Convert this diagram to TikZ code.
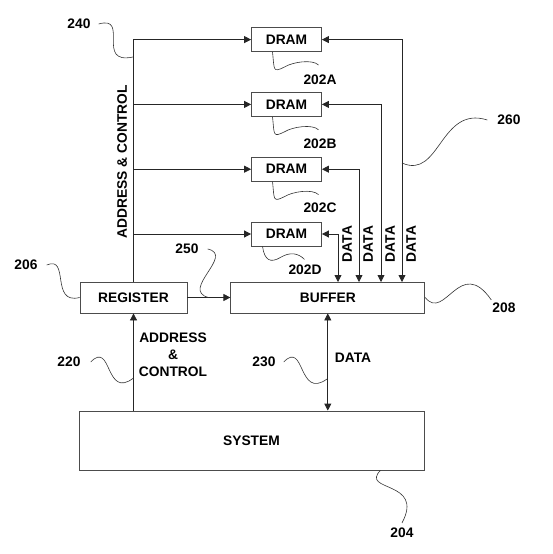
\documentclass[tikz,border=0pt]{standalone}
\usepackage{fontspec}
\setmainfont{Liberation Sans}
\usetikzlibrary{arrows.meta, positioning}

\begin{document}
\begin{tikzpicture}[
  x=1pt, y=-1pt,
  font=\fontsize{13.8}{17}\selectfont\bfseries,
  blockbox/.style={rectangle, draw=black!70, line width=0.8pt, inner sep=0pt, minimum height=31pt},
  drambox/.style={blockbox, minimum width=70pt, minimum height=24pt},
  wire/.style={draw=black!85, line width=0.8pt},
  arrowto/.style={-{Triangle[length=7pt,width=7pt]}},
  arrowboth/.style={{Triangle[length=7pt,width=7pt]}-{Triangle[length=7pt,width=7pt]}},
  lead/.style={draw=black!80, line width=0.6pt},
  reflabel/.style={inner sep=1pt}
]
  \useasboundingbox (0,0) rectangle (553,554);

  \node[blockbox, minimum width=107pt] (reg) at (133.5,297.5) {REGISTER};
  \node[blockbox, minimum width=194pt, right=43pt of reg] (buf) {BUFFER};
  \node[blockbox, minimum width=345pt, minimum height=59pt] (sys) at (251.5,440.5) {SYSTEM};

  \node[drambox] (dramD) at (286.5,234) {DRAM};
  \node[drambox, above=40pt of dramD] (dramC) {DRAM};
  \node[drambox, above=40pt of dramC] (dramB) {DRAM};
  \node[drambox, above=40pt of dramB] (dramA) {DRAM};

  \coordinate (bus) at (reg.north |- dramA.west);
  \draw[wire, arrowto] (reg.north) -- (bus) -- (dramA.west);
  \foreach \d in {B,C,D}
    \draw[wire, arrowto] (reg.north |- dram\d.west) -- (dram\d.west);
  \node[rotate=90] (addrup) at (122,162) {ADDRESS \& CONTROL};

  \foreach \d/\xx in {A/402,B/381,C/359,D/338} {
    \coordinate (in\d) at (\xx,282);
    \draw[wire, arrowboth] (dram\d.east) -| (in\d);
    \node[rotate=90] (data\d) at (\xx+9,244) {DATA};
  }

  \draw[wire, arrowto] (reg.east) -- (buf.west);
  \draw[wire, arrowto] (reg.south |- sys.north) -- (reg.south);
  \draw[wire, arrowboth] (buf.south |- sys.north) -- (buf.south);
  \node[align=center] (addrlow) at (173,355) {ADDRESS\\\&\\CONTROL};
  \node (datalow) at (353,358) {DATA};

  \node[reflabel] (l202A) at (320,80) {202A};
  \node[reflabel] (l202B) at (320,144) {202B};
  \node[reflabel] (l202C) at (320,208) {202C};
  \node[reflabel] (l202D) at (305,270) {202D};
  \foreach \d in {A,B,C}
    \draw[lead] ([xshift=-14pt]dram\d.south) .. controls +(2,18) and +(-12,6) .. ++(12,15)
      .. controls +(8,-5) and +(-6,-6) .. ++(34,-2);
  \draw[lead] ([xshift=-24pt]dramD.south) .. controls +(2,14) and +(-10,6) .. ++(18,11)
    .. controls +(10,-6) and +(-6,-6) .. ++(24,2);

  \node[reflabel] (l240) at (79,24) {240};
  \coordinate (t240) at (133,57);
  \draw[lead] ([xshift=7pt]l240.east) .. controls (130,15) and (95,65) .. (t240);

  \node[reflabel] (l260) at (509,120) {260};
  \coordinate (t260) at (402,163);
  \draw[lead] (t260) .. controls (440,180) and (440,105) .. ([xshift=-9pt]l260.west);

  \node[reflabel] (l206) at (26,265) {206};
  \draw[lead] ([xshift=8pt]l206.east) .. controls (70,255) and (50,305) .. (reg.west);

  \node[reflabel] (l250) at (187,249) {250};
  \coordinate (t250) at (208.5,297.5);
  \draw[lead] ([xshift=8pt]l250.east) .. controls (235,255) and (180,290) .. (t250);

  \node[reflabel] (l208) at (504,308) {208};
  \draw[lead] (buf.east) .. controls (445,322) and (460,255) .. ([yshift=2pt]l208.north west);

  \node[reflabel] (l220) at (69,362) {220};
  \coordinate (t220) at (133.5,378);
  \draw[lead] ([xshift=9pt]l220.east) .. controls (112,340) and (105,400) .. (t220);

  \node[reflabel] (l230) at (264,362) {230};
  \coordinate (t230) at (327,379);
  \draw[lead] ([xshift=7pt]l230.east) .. controls (305,340) and (298,400) .. (t230);

  \node[reflabel] (l204) at (402,533) {204};
  \draw[lead] ([xshift=-44pt]sys.south east) .. controls (360,492) and (425,480) .. ([yshift=4pt]l204.north);
\end{tikzpicture}
\end{document}
